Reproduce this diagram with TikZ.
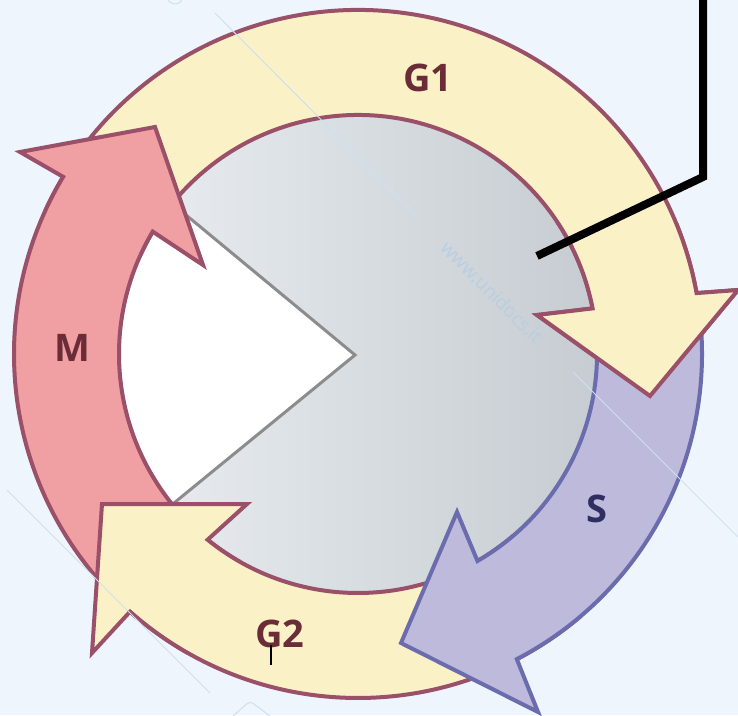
\documentclass[tikz,border=0pt]{standalone}
\usepackage{fontspec}
\setmainfont{Open Sans}
\definecolor{bgblue}{HTML}{EEF5FC}
\definecolor{discA}{HTML}{EAEEF2}
\definecolor{discB}{HTML}{C6CCD1}
\definecolor{cream}{HTML}{FBF1C7}
\definecolor{maroon}{HTML}{9A5068}
\definecolor{rosefill}{HTML}{F0A0A2}
\definecolor{lilac}{HTML}{BDBADB}
\definecolor{lilacline}{HTML}{6A6CAE}
\definecolor{labelred}{HTML}{6A2C36}
\definecolor{labelblue}{HTML}{2F2E60}
\definecolor{wmline}{HTML}{CFE0EF}
\definecolor{wmtext}{HTML}{B8CEE2}
\begin{document}
\begin{tikzpicture}[x=1pt,y=1pt,
  ring/.style={line width=4pt, line join=miter, miter limit=20},
  gphase/.style={ring, draw=maroon, fill=cream},
  mphase/.style={ring, draw=maroon, fill=rosefill},
  sphase/.style={ring, draw=lilacline, fill=lilac},
  phaselabel/.style={font=\fontsize{38}{38}\selectfont\bfseries, text=labelred, inner sep=0pt},
  wedgeline/.style={draw=black!45, line width=3pt, line join=miter},
  wm/.style={draw=wmline, line width=1pt},
  leader/.style={draw=black, line width=8pt, line join=miter}]
\useasboundingbox (-358,-361) rectangle (380,354);
\fill[bgblue] (-358,-361) rectangle (380,354);

% central disc with the cut-out sector
\shade[left color=discA, right color=discB] (0,0) circle (240);
\coordinate (V) at (-3,-1);
\fill[white] (V) -- (141:239) arc[start angle=141, end angle=219, radius=239] -- cycle;
\draw[wedgeline] (141:239) -- (V) -- (219:239);

% G1
\path[gphase] (155:344) arc[start angle=155, end angle=10.2, radius=344]
  -- (380,64) -- (292,-42) -- (179,39)
  -- (11:239) arc[start angle=11, end angle=155, radius=239] -- cycle;
% M
\path[mphase] (240:344) arc[start angle=240, end angle=149, radius=344]
  -- (-338,202) -- (-203,227) -- (-155,89)
  -- (149.2:239) arc[start angle=149.2, end angle=240, radius=239] -- cycle;
% G2
\path[gphase] (-50:344) arc[start angle=-50, end angle=-131.5, radius=344]
  -- (-266,-299) -- (-256,-150) -- (-111,-150)
  -- (-129:239) arc[start angle=-129, end angle=-50, radius=239] -- cycle;
% S
\path[sphase] (8:344) arc[start angle=8, end angle=-62.5, radius=344]
  -- (180,-358) -- (43,-289) -- (99,-158)
  -- (-60:239) arc[start angle=-60, end angle=8, radius=239] -- cycle;
% G1 head lies over the start of S
\begin{scope}
  \clip (150,-50) rectangle (385,130);
  \path[gphase] (155:344) arc[start angle=155, end angle=10.2, radius=344]
    -- (380,64) -- (292,-42) -- (179,39)
    -- (11:239) arc[start angle=11, end angle=155, radius=239] -- cycle;
\end{scope}

% phase labels
\node[phaselabel] (lg1) at (70,276) {G1};
\node[phaselabel] (lm) at (-286,6) {M};
\node[phaselabel] (lg2) at (-78,-280) {G2};
\node[phaselabel, text=labelblue] (ls) at (239,-155) {S};
\draw[line width=1.5pt] (-87,-291) -- (-87,-311);

% watermark
\draw[wm] (-143,341) -- (60,137);
\draw[wm] (215,-18) -- (380,-183);
\draw[wm] (-351,-136) -- (-148,-339);
\draw[wm] (-183,358) ++(200:8) arc[start angle=200, end angle=340, radius=8];
\draw[wm, rounded corners=4pt] (-125,-362) -- (-108,-347) -- (-88,-362);
\node[rotate=-45, text=wmtext, font=\fontsize{19}{19}\selectfont] (wmark) at (134,62) {www.unidocs.it};

% pointer line
\coordinate (p1) at (179,98);
\coordinate (p2) at (345,177);
\coordinate (p3) at (345,362);
\draw[leader] (p1) -- (p2) -- (p3);
\end{tikzpicture}
\end{document}
